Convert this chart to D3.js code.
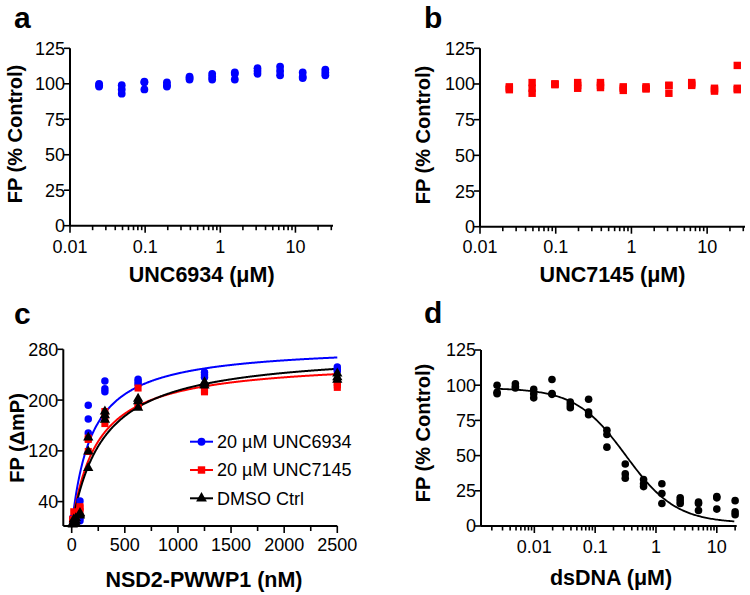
<!DOCTYPE html>
<html><head><meta charset="utf-8">
<script src="https://cdn.jsdelivr.net/npm/d3@7"></script>
<style>body{margin:0;background:#fff}svg{display:block}text{font-family:"Liberation Sans",Arial,sans-serif}</style>
</head><body><div id="chart"></div>
<script>
// ---------- Panel a: UNC6934 ----------
const concAB = [0.0244, 0.0488, 0.0977, 0.195, 0.39, 0.78, 1.56, 3.125, 6.25, 12.5, 25];
const valuesA = [
  [100, 98, 99], [99, 96, 93], [101.5, 96, 101], [101, 98, 99], [105, 103, 104],
  [107, 103, 105], [108, 103, 107], [111, 107, 109], [112, 109, 106], [108, 104, 105], [110, 106, 108]
];
// ---------- Panel b: UNC7145 ----------
const valuesB = [
  [98, 96, 97], [101, 97, 93.5], [100, 99.5, 100], [101, 97, 99], [101, 97.5, 99],
  [98, 95.5, 97], [98, 96.5, 97], [99, 93.5, 99], [101, 99, 100], [97, 95, 96], [113, 97, 96]
];
const logTicksAB = [0.01, 0.1, 1, 10];
const logTickLabelsAB = ["0.01", "0.1", "1", "10"];
const yTicksAB = [0, 25, 50, 75, 100, 125];

// ---------- Panel c: NSD2-PWWP1 titration ----------
const concC = [9.8, 19.5, 39, 78, 156, 312.5, 625, 1250, 2500];
const seriesNames = ["20 \u00b5M UNC6934", "20 \u00b5M UNC7145", "DMSO Ctrl"];
const valuesC6934 = [[6, 10, 14], [10, 12, 8], [16, 18, 12], [41, 14, 10], [192, 170, 148], [230, 218, 213], [233, 229, 225], [244, 240, 236], [252, 248, 246]];
const valuesC7145 = [[8, 12, 10], [24, 10, 8], [22, 15, 12], [32, 30, 24], [140, 119, 138], [182, 172, 163], [219, 190, 192], [216, 213, 214], [228, 224, 220]];
const valuesCDMSO = [[4, 6, 5], [8, 5, 12], [14, 10, 6], [22, 18, 20], [141, 119, 93], [182, 176, 169], [202, 198, 188], [228, 223, 226], [242, 236, 232]];
// one-site binding fit parameters [Bmax, Kd]
const fitC = [[287, 186], [264, 239], [279, 298]];
const xTicksC = [0, 500, 1000, 1500, 2000, 2500];
const yTicksC = [40, 120, 200, 280];

// ---------- Panel d: dsDNA ----------
const concD = [0.00244, 0.00488, 0.00977, 0.0195, 0.039, 0.078, 0.156, 0.3125, 0.625, 1.25, 2.5, 5, 10, 20];
const valuesD = [
  [100, 95, 94], [101, 98, 99], [97, 94, 91], [104, 93.5, 94], [88, 86, 84], [90, 81, 79],
  [68, 65, 56], [44, 37, 34], [33, 30, 28], [30, 23, 16], [20, 18, 16], [17, 11, 16], [21, 20, 12], [18, 10, 8]
];
// four-parameter logistic fit [top, bottom, IC50, hill]
const fitD = [98, 2, 0.32, 1.05];
const logTicksD = [0.01, 0.1, 1, 10];
const logTickLabelsD = ["0.01", "0.1", "1", "10"];
const yTicksD = [0, 25, 50, 75, 100, 125];

const BLUE = "#0000ff", RED = "#ff0000", BLACK = "#000000";
const TICK_FS = 18;

const svg = d3.select("#chart").append("svg").attr("width", 750).attr("height", 595);

function minorLogTicks(domain) {
  const out = [];
  const lo = Math.floor(Math.log10(domain[0])), hi = Math.ceil(Math.log10(domain[1]));
  for (let e = lo; e <= hi; e++) for (let m = 1; m <= 9; m++) {
    const v = m * Math.pow(10, e);
    if (v >= domain[0] * 0.999 && v <= domain[1] * 1.001) out.push(v);
  }
  return out;
}

function drawLogX(g, x, y0, majors, labels, labelBaseline) {
  const all = minorLogTicks(x.domain());
  g.append("line").attr("x1", x.range()[0]).attr("x2", x.range()[1]).attr("y1", y0).attr("y2", y0)
    .attr("stroke", "#000").attr("stroke-width", 2);
  all.forEach(v => {
    const isMaj = majors.some(m => Math.abs(m - v) / m < 1e-6);
    g.append("line").attr("x1", x(v)).attr("x2", x(v)).attr("y1", y0).attr("y2", y0 + (isMaj ? 7 : 4.5))
      .attr("stroke", "#000").attr("stroke-width", 1.6);
  });
  majors.forEach((v, i) => {
    g.append("text").attr("x", x(v)).attr("y", labelBaseline).attr("text-anchor", "middle")
      .attr("font-size", TICK_FS).text(labels[i]);
  });
}

function drawY(g, y, x0, ticks, bottomY) {
  g.append("line").attr("x1", x0).attr("x2", x0).attr("y1", y.range()[1]).attr("y2", bottomY)
    .attr("stroke", "#000").attr("stroke-width", 2);
  ticks.forEach(v => {
    g.append("line").attr("x1", x0 - 6).attr("x2", x0).attr("y1", y(v)).attr("y2", y(v))
      .attr("stroke", "#000").attr("stroke-width", 1.6);
    g.append("text").attr("x", x0 - 5).attr("y", y(v)).attr("dy", "0.36em").attr("text-anchor", "end")
      .attr("font-size", TICK_FS).text(v);
  });
}

function yTitle(text, cx, cy) {
  svg.append("text").attr("transform", `translate(${cx},${cy}) rotate(-90)`).attr("text-anchor", "middle")
    .attr("dy", "0.36em").attr("font-size", 20).attr("font-weight", "bold").text(text);
}
function xTitle(text, cx, baseline) {
  svg.append("text").attr("x", cx).attr("y", baseline).attr("text-anchor", "middle")
    .attr("font-size", 21.5).attr("font-weight", "bold").text(text);
}
function panelLetter(t, x, baseline) {
  svg.append("text").attr("x", x).attr("y", baseline).attr("font-size", 30).attr("font-weight", "bold").text(t);
}

// ===== Panel a =====
{
  const x = d3.scaleLog().domain([0.01, Math.pow(10, 1.5)]).range([70, 333]);
  const y = d3.scaleLinear().domain([0, 125]).range([225.7, 48.3]);
  const g = svg.append("g");
  const pts = concAB.flatMap((c, i) => valuesA[i].map(v => ({ c, v })));
  g.selectAll("circle").data(pts).join("circle").attr("cx", d => x(d.c)).attr("cy", d => y(d.v))
    .attr("r", 3.9).attr("fill", BLUE);
  drawY(g, y, 70, yTicksAB, 225.7);
  drawLogX(g, x, 225.7, logTicksAB, logTickLabelsAB, 253);
  yTitle("FP (% Control)", 15, 134);
  xTitle("UNC6934 (\u03bcM)", 201.7, 282);
  panelLetter("a", 14, 28);
}

// ===== Panel b =====
{
  const x = d3.scaleLog().domain([0.01, Math.pow(10, 1.5)]).range([480, 745]);
  const y = d3.scaleLinear().domain([0, 125]).range([226.7, 48.3]);
  const g = svg.append("g");
  const pts = concAB.flatMap((c, i) => valuesB[i].map(v => ({ c, v })));
  g.selectAll("rect").data(pts).join("rect").attr("x", d => x(d.c) - 3.7).attr("y", d => y(d.v) - 3.7)
    .attr("width", 7.4).attr("height", 7.4).attr("fill", RED);
  drawY(g, y, 480, yTicksAB, 226.7);
  drawLogX(g, x, 226.7, logTicksAB, logTickLabelsAB, 253);
  yTitle("FP (% Control)", 422.7, 135);
  xTitle("UNC7145 (\u03bcM)", 612.5, 282);
  panelLetter("b", 424, 28);
}

// ===== Panel c =====
{
  const x = d3.scaleLinear().domain([-79, 2500]).range([63.3, 337.3]);
  const y = d3.scaleLinear().domain([0, 280]).range([527, 349.3]);
  const g = svg.append("g");
  const colors = [BLUE, RED, BLACK];
  const data = [valuesC6934, valuesC7145, valuesCDMSO];
  const line = d3.line().x(d => x(d[0])).y(d => y(d[1])).curve(d3.curveLinear);
  const sym = [d3.symbolCircle, d3.symbolSquare, d3.symbolTriangle];
  const symSize = [44, 50, 46];
  const xs = d3.range(0, 2501, 5);
  data.forEach((vals, s) => {
    const [bmax, kd] = fitC[s];
    g.append("path").attr("d", line(xs.map(v => [v, bmax * v / (kd + v)]))).attr("fill", "none")
      .attr("stroke", colors[s]).attr("stroke-width", 2);
  });
  data.forEach((vals, s) => {
    const pts = concC.flatMap((c, i) => vals[i].map(v => ({ c, v })));
    g.selectAll(null).data(pts).join("path")
      .attr("transform", d => `translate(${x(d.c)},${y(d.v)})`)
      .attr("d", d3.symbol().type(sym[s]).size(symSize[s])).attr("fill", colors[s]);
  });
  // axes
  drawY(g, y, 63.3, yTicksC, 526);
  g.append("line").attr("x1", 63.3).attr("x2", 337.3).attr("y1", 526).attr("y2", 526).attr("stroke", "#000").attr("stroke-width", 2);
  d3.range(0, 2501, 250).forEach(v => {
    const maj = v % 500 === 0;
    g.append("line").attr("x1", x(v)).attr("x2", x(v)).attr("y1", 526).attr("y2", 526 + (maj ? 7 : 5))
      .attr("stroke", "#000").attr("stroke-width", 1.6);
  });
  xTicksC.forEach(v => g.append("text").attr("x", x(v)).attr("y", 551).attr("text-anchor", "middle").attr("font-size", TICK_FS).text(v));
  // legend
  const ly = [441.7, 470, 498.3];
  seriesNames.forEach((n, s) => {
    g.append("line").attr("x1", 190).attr("x2", 213).attr("y1", ly[s]).attr("y2", ly[s]).attr("stroke", colors[s]).attr("stroke-width", 2);
    g.append("path").attr("transform", `translate(201.5,${ly[s]})`).attr("d", d3.symbol().type(sym[s]).size(symSize[s] * 1.1)).attr("fill", colors[s]);
    g.append("text").attr("x", 217).attr("y", ly[s]).attr("dy", "0.36em").attr("font-size", 18).text(n);
  });
  yTitle("FP (\u0394mP)", 16.7, 438);
  xTitle("NSD2-PWWP1 (nM)", 204, 587);
  panelLetter("c", 14, 324);
}

// ===== Panel d =====
{
  const x = d3.scaleLog().domain([Math.pow(10, -2.877), Math.pow(10, 1.327)]).range([481, 736.7]);
  const y = d3.scaleLinear().domain([0, 125]).range([526, 350]);
  const g = svg.append("g");
  const [top, bottom, ic50, hill] = fitD;
  const xs = d3.range(Math.log10(0.00244), Math.log10(20) + 0.001, 0.02).map(l => Math.pow(10, l));
  const line = d3.line().x(d => x(d[0])).y(d => y(d[1]));
  g.append("path").attr("d", line(xs.map(v => [v, bottom + (top - bottom) / (1 + Math.pow(v / ic50, hill))])))
    .attr("fill", "none").attr("stroke", BLACK).attr("stroke-width", 1.8);
  const pts = concD.flatMap((c, i) => valuesD[i].map(v => ({ c, v })));
  g.selectAll("circle").data(pts).join("circle").attr("cx", d => x(d.c)).attr("cy", d => y(d.v))
    .attr("r", 3.8).attr("fill", BLACK);
  drawY(g, y, 481, yTicksD, 526);
  drawLogX(g, x, 526, logTicksD, logTickLabelsD, 553);
  yTitle("FP (% Control)", 422.7, 433);
  xTitle("dsDNA (\u03bcM)", 611, 585);
  panelLetter("d", 424, 323);
}
</script></body></html>
